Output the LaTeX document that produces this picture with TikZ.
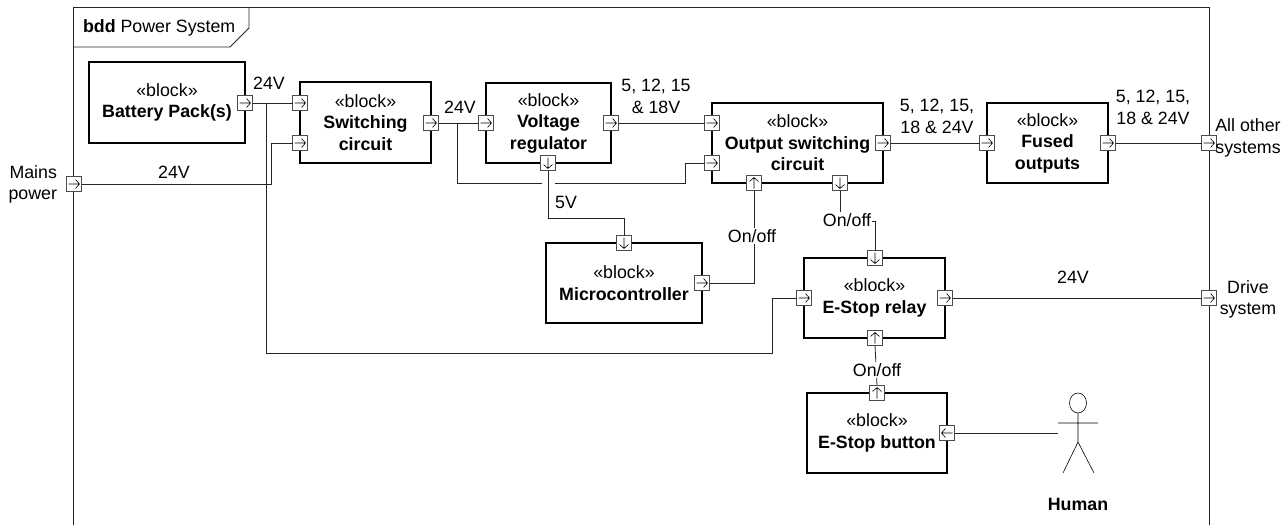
\documentclass[tikz,border=0pt]{standalone}
\usepackage{fontspec}
\setmainfont{Liberation Sans}
\newcommand{\blktext}[1]{«block»\\\bfseries #1}
\begin{document}
\begin{tikzpicture}[x=1pt,y=-1pt,
  every node/.style={inner sep=0pt,outer sep=0pt},
  font=\fontsize{17.8}{21.5}\selectfont,
  blockbox/.style={draw=black,line width=1.1pt,fill=white,anchor=north west,align=center},
  portbase/.style={draw=black!70,line width=0.8pt,fill=white,minimum size=15pt},
  portE/.style={portbase,path picture={\draw[black,line width=0.6pt] (-5.5pt,0)--(5.5pt,0) (1.5pt,-4.5pt)--(5.5pt,0)--(1.5pt,4.5pt);}},
  portW/.style={portbase,path picture={\draw[black,line width=0.6pt] (-5.5pt,0)--(5.5pt,0) (-1.5pt,-4.5pt)--(-5.5pt,0)--(-1.5pt,4.5pt);}},
  portN/.style={portbase,path picture={\draw[black,line width=0.6pt] (0,-5.5pt)--(0,5.5pt) (-4.5pt,1.5pt)--(0,5.5pt)--(4.5pt,1.5pt);}},
  portS/.style={portbase,path picture={\draw[black,line width=0.6pt] (0,5.5pt)--(0,-5.5pt) (-4.5pt,-1.5pt)--(0,-5.5pt)--(4.5pt,-1.5pt);}},
  wire/.style={draw=black!85,line width=0.8pt},
  lbl/.style={align=center},
  lblfill/.style={align=center,fill=white,inner sep=1pt}
]
\useasboundingbox (0,0) rectangle (1288,525);
% frame
\draw[line width=0.8pt,black!85] (73,525)--(73,7)--(1209,7)--(1209,525);
\draw[line width=0.8pt,black!85] (73,47)--(230,47)--(249,28)--(249,7);
\node[anchor=west] (title) at (83,27.5) {\textbf{bdd} Power System};

% blocks
\node[blockbox,minimum width=156pt,minimum height=81pt] (bat) at (89,62) {\blktext{Battery Pack(s)}};
\node[blockbox,minimum width=131pt,minimum height=81pt] (sw) at (300,82) {\blktext{Switching\\\bfseries circuit}};
\node[blockbox,minimum width=125pt,minimum height=80pt] (reg) at (486,83) {\blktext{Voltage\\\bfseries regulator}};
\node[blockbox,minimum width=171pt,minimum height=80pt] (out) at (712,103) {\blktext{Output switching\\\bfseries circuit}};
\node[blockbox,minimum width=121pt,minimum height=80pt] (fus) at (987,103) {\blktext{Fused\\\bfseries outputs}};
\node[blockbox,minimum width=156pt,minimum height=80pt] (mcu) at (546,243) {\blktext{Microcontroller}};
\node[blockbox,minimum width=141pt,minimum height=80pt] (rel) at (804,258) {\blktext{E-Stop relay}};
\node[blockbox,minimum width=140pt,minimum height=80pt] (btn) at (807,393) {\blktext{E-Stop button}};

% ports
\node[portE] (pMains) at (74,184) {};
\node[portE] (pBat) at (245,103) {};
\node[portE] (pSw1) at (300,103) {};
\node[portE] (pSw2) at (300,143) {};
\node[portE] (pSwO) at (431,123) {};
\node[portE] (pReg1) at (486,123) {};
\node[portE] (pRegO) at (611,123) {};
\node[portS] (pRegD) at (548,163) {};
\node[portE] (pOut1) at (712,123) {};
\node[portE] (pOut2) at (712,163) {};
\node[portN] (pOutU) at (754,183) {};
\node[portS] (pOutD) at (840,183) {};
\node[portE] (pOutO) at (883,143) {};
\node[portE] (pFus1) at (987,143) {};
\node[portE] (pFusO) at (1108,143) {};
\node[portE] (pAll) at (1209,143) {};
\node[portS] (pMcuI) at (624,243) {};
\node[portE] (pMcuO) at (702,283) {};
\node[portE] (pRelL) at (804,298) {};
\node[portE] (pRelR) at (945,298) {};
\node[portS] (pRelT) at (875,258) {};
\node[portN] (pRelB) at (875,338) {};
\node[portE] (pDrive) at (1209,298) {};
\node[portN] (pBtnT) at (877,393) {};
\node[portW] (pBtnR) at (947,433) {};

% actor
\draw[line width=0.6pt] (1078,403) ellipse (8.5 and 10);
\draw[line width=0.6pt] (1078,413)--(1078,442) (1058,423)--(1098,423) (1063,473)--(1078,442)--(1094,473);
\coordinate (actorHand) at (1058,433);
\node (human) at (1078,504) {\textbf{Human}};

% junction / bend coordinates
\coordinate (jBat) at (266,103);
\coordinate (bMains) at (271,184);
\coordinate (bSw2) at (271,143);
\coordinate (bRel1) at (266,353);
\coordinate (bRel2) at (772,353);
\coordinate (bRel3) at (772,298);
\coordinate (jSw) at (457,123);
\coordinate (b1) at (457,183);
\coordinate (gapL) at (542,183);
\coordinate (gapR) at (555,183);
\coordinate (b2) at (685,183);
\coordinate (b3) at (685,163);
\coordinate (bReg) at (548,218);
\coordinate (bOut) at (875,221);

% connectors
\draw[wire] (pMains.east)--(bMains)--(bSw2)--(pSw2.west);
\draw[wire] (pBat.east)--(pSw1.west);
\draw[wire] (jBat)--(bRel1)--(bRel2)--(bRel3)--(pRelL.west);
\draw[wire] (pSwO.east)--(pReg1.west);
\draw[wire] (jSw)--(b1)--(gapL);
\draw[wire] (gapR)--(b2)--(b3)--(pOut2.west);
\draw[wire] (pRegO.east)--(pOut1.west);
\draw[wire] (pRegD.south)--(bReg)-|(pMcuI.north);
\draw[wire] (pMcuO.east)-|(pOutU.south);
\draw[wire] (pOutD.south)|-(bOut)--(pRelT.north);
\draw[wire] (pOutO.east)--(pFus1.west);
\draw[wire] (pFusO.east)--(pAll.west);
\draw[wire] (pRelR.east)--(pDrive.west);
\draw[wire] (pRelB.south)--(pBtnT.north);
\draw[wire] (pBtnR.east)--(actorHand);

% labels
\node[lbl] (l1) at (269,83) {24V};
\node[lbl] (l2) at (174,172) {24V};
\node[lbl] (l3) at (460,107) {24V};
\node[lbl] (l4) at (656,96.5) {5, 12, 15\\\& 18V};
\node[lbl] (l5) at (566,202) {5V};
\node[lbl] (l6) at (937,116.5) {5, 12, 15,\\18 \& 24V};
\node[lbl] (l7) at (1153,107.5) {5, 12, 15,\\18 \& 24V};
\node[lbl] (l8) at (1073,277) {24V};
\node[lblfill] (l9) at (752,236) {On/off};
\node[lblfill] (l10) at (847,220) {On/off};
\node[lblfill] (l11) at (877,370) {On/off};
\node[lbl,align=right,anchor=east] (l12) at (57,184.5) {Mains\\power};
\node[lbl] (l13) at (1248,138) {All other\\systems};
\node[lbl] (l14) at (1248,299.5) {Drive\\system};
\end{tikzpicture}
\end{document}
